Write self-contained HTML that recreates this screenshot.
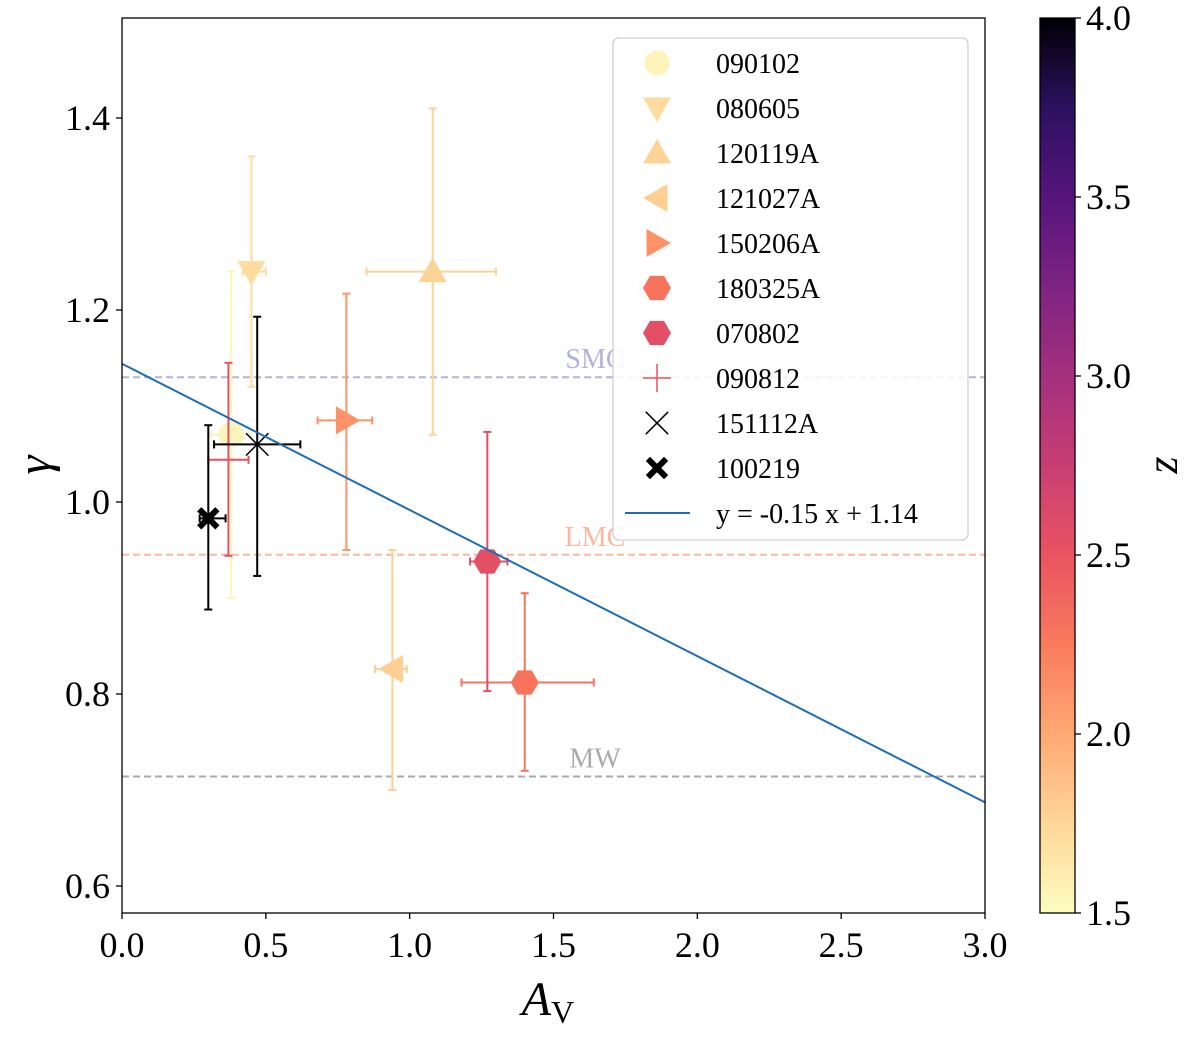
<!DOCTYPE html>
<html><head><meta charset="utf-8"><style>
body{margin:0;background:#fff}
svg text{font-family:"Liberation Serif","DejaVu Serif",serif;fill:#000}
</style></head><body>
<svg id="chart" width="1200" height="1034" xmlns="http://www.w3.org/2000/svg">
<defs>
<linearGradient id="cmap" x1="0" y1="1" x2="0" y2="0">
<stop offset="0" stop-color="#fcfdbf"/><stop offset="0.1" stop-color="#fed799"/><stop offset="0.2" stop-color="#fea873"/><stop offset="0.3" stop-color="#f97b5d"/><stop offset="0.4" stop-color="#e95462"/><stop offset="0.5" stop-color="#c83e73"/><stop offset="0.6" stop-color="#a3307e"/><stop offset="0.7" stop-color="#7e2482"/><stop offset="0.8" stop-color="#56147d"/><stop offset="0.9" stop-color="#2c115f"/><stop offset="1" stop-color="#000004"/>
</linearGradient>
</defs>
<g id="plot"></g>
</svg>
<script>
const names=["090102","080605","120119A","121027A","150206A","180325A","070802","090812","151112A","100219"];
const markers=["circle","tdown","tup","tleft","tright","hex","hex","plus","x","xbold"];
const colors=["#fcf5bb","#fedc9f","#fed396","#fecf92","#fc9265","#f8735c","#e34f64","#e8505f","#000","#000"];
const avs=[0.38,0.45,1.08,0.94,0.78,1.40,1.27,0.37,0.47,0.30];
const avLo=[0.31,0.42,0.85,0.88,0.68,1.18,1.21,0.30,0.32,0.27];
const avHi=[0.45,0.50,1.30,0.99,0.87,1.64,1.34,0.44,0.62,0.36];
const gammas=[1.07,1.24,1.24,0.826,1.085,0.812,0.938,1.044,1.06,0.983];
const gLo=[0.90,1.12,1.07,0.70,0.95,0.72,0.803,0.944,0.923,0.888];
const gHi=[1.24,1.36,1.41,0.95,1.217,0.905,1.073,1.145,1.193,1.08];
const xTicks=[0,0.5,1.0,1.5,2.0,2.5,3.0];
const yTicks=[0.6,0.8,1.0,1.2,1.4];
const cTicks=[1.5,2.0,2.5,3.0,3.5,4.0];
const refLines=[["SMC",1.13,"#b3b3db"],["LMC",0.945,"#f9b8a0"],["MW",0.714,"#aaaaaa"]];
const fitSlope=-0.1523, fitIcpt=1.144;
const L=122,R=985,T=18,B=913;
const X=v=>L+(v-0)/3*(R-L);
const Y=v=>886-(v-0.6)*960;
const C=v=>913-(v-1.5)/2.5*895;
const ns="http://www.w3.org/2000/svg";
const g=document.getElementById('plot');
function mk(t,a,p){const e=document.createElementNS(ns,t);for(const k in a)e.setAttribute(k,a[k]);(p||g).appendChild(e);return e;}
const cp=mk('clipPath',{id:'clip'});mk('rect',{x:L,y:T,width:R-L,height:B-T},cp);
const inner=mk('g',{'clip-path':'url(#clip)'});
refLines.forEach(r=>{
 const l=mk('line',{x1:L,x2:R,y1:Y(r[1]),y2:Y(r[1]),stroke:r[2],'stroke-width':2,'stroke-dasharray':'7,4'},inner);
 
 
 const t=mk('text',{x:595,y:Y(r[1])-9,'font-size':28,'text-anchor':'middle',style:'fill:'+r[2]},inner);t.textContent=r[0];
 
 
});
function marker(type,cx,cy,col,s,par){
 if(type=='circle')return mk('circle',{cx,cy,r:s*0.9,fill:col},par);
 const pts=(arr)=>arr.map(p=>(cx+p[0]*s)+','+(cy+p[1]*s)).join(' ');
 if(type=='tdown')return mk('polygon',{points:pts([[-1,-0.75],[1,-0.75],[0,1]]),fill:col},par);
 if(type=='tup')return mk('polygon',{points:pts([[-1,0.75],[1,0.75],[0,-1]]),fill:col},par);
 if(type=='tleft')return mk('polygon',{points:pts([[0.75,-1],[0.75,1],[-1,0]]),fill:col},par);
 if(type=='tright')return mk('polygon',{points:pts([[-0.75,-1],[-0.75,1],[1,0]]),fill:col},par);
 if(type=='hex'){let a=[];for(let i=0;i<6;i++){const an=Math.PI/3*i;a.push([Math.cos(an),Math.sin(an)]);}return mk('polygon',{points:pts(a),fill:col},par);}
 if(type=='plus'){const gg=mk('g',{},par);mk('line',{x1:cx-s,x2:cx+s,y1:cy,y2:cy,stroke:col,'stroke-width':1.5},gg);mk('line',{x1:cx,x2:cx,y1:cy-s,y2:cy+s,stroke:col,'stroke-width':1.5},gg);return gg;}
 if(type=='x'){const gg=mk('g',{},par);mk('line',{x1:cx-s*.8,x2:cx+s*.8,y1:cy-s*.8,y2:cy+s*.8,stroke:col,'stroke-width':1.5},gg);mk('line',{x1:cx-s*.8,x2:cx+s*.8,y1:cy+s*.8,y2:cy-s*.8,stroke:col,'stroke-width':1.5},gg);return gg;}
 if(type=='xbold'){const gg=mk('g',{},par);mk('line',{x1:cx-s*.65,x2:cx+s*.65,y1:cy-s*.65,y2:cy+s*.65,stroke:col,'stroke-width':6},gg);mk('line',{x1:cx-s*.65,x2:cx+s*.65,y1:cy+s*.65,y2:cy-s*.65,stroke:col,'stroke-width':6},gg);return gg;}
}
names.forEach((n,i)=>{
 const gg=mk('g',{},inner);
 
 
 const c=colors[i],x=X(avs[i]),y=Y(gammas[i]);
 mk('line',{x1:X(avLo[i]),x2:X(avHi[i]),y1:y,y2:y,stroke:c,'stroke-width':2},gg);
 mk('line',{x1:x,x2:x,y1:Y(gLo[i]),y2:Y(gHi[i]),stroke:c,'stroke-width':2},gg);
 [[X(avLo[i]),y,0],[X(avHi[i]),y,0],[x,Y(gLo[i]),1],[x,Y(gHi[i]),1]].forEach(p=>{
  if(p[2])mk('line',{x1:p[0]-4,x2:p[0]+4,y1:p[1],y2:p[1],stroke:c,'stroke-width':2},gg);
  else mk('line',{x1:p[0],x2:p[0],y1:p[1]-4,y2:p[1]+4,stroke:c,'stroke-width':2},gg);
 });
 marker(markers[i],x,y,c,14,gg);
});
const fl=mk('line',{x1:X(0),y1:Y(fitIcpt),x2:X(3),y2:Y(fitIcpt+3*fitSlope),stroke:'#1f6eb4','stroke-width':2},inner);


const ax=mk('rect',{x:L,y:T,width:R-L,height:B-T,fill:'none',stroke:'#000','stroke-width':1.3});


xTicks.forEach(v=>{mk('line',{x1:X(v),x2:X(v),y1:B,y2:B+6,stroke:'#000','stroke-width':1.3});
 const t=mk('text',{x:X(v),y:B+44,'font-size':36,'text-anchor':'middle'});t.textContent=v.toFixed(1);
 
 });
yTicks.forEach(v=>{mk('line',{x1:L-6,x2:L,y1:Y(v),y2:Y(v),stroke:'#000','stroke-width':1.3});
 const t=mk('text',{x:L-12,y:Y(v)+12,'font-size':36,'text-anchor':'end'});t.textContent=v.toFixed(1);
 
 });
let t=mk('text',{x:548,y:1015,'font-size':48,'font-style':'italic','text-anchor':'middle'});t.innerHTML='A<tspan font-size="32" font-style="normal" dy="8">V</tspan>';


t=mk('text',{x:0,y:0,'font-size':48,'font-style':'italic','text-anchor':'middle',transform:'translate(50,465) rotate(-90)'});t.textContent='γ';


const lg=mk('g',{});


mk('rect',{x:613,y:38,width:355,height:502,rx:6,fill:'#fff','fill-opacity':0.85,stroke:'#d0d0d0','stroke-width':1.3},lg);
names.forEach((n,i)=>{
 const yy=63+i*45;
 const e=mk('g',{},lg);
 
 
 marker(markers[i],657,yy,colors[i],14,e);
 const tt=mk('text',{x:716,y:yy+10,'font-size':28},e);tt.textContent=n;
});
const le=mk('g',{},lg);


mk('line',{x1:625,x2:690,y1:513,y2:513,stroke:'#1f6eb4','stroke-width':2},le);
const ft=mk('text',{x:716,y:523,'font-size':28},le);ft.textContent='y = -0.15 x + 1.14';
const cb=mk('rect',{x:1040,y:18,width:35,height:895,fill:'url(#cmap)',stroke:'#000','stroke-width':1.3});


cTicks.forEach(v=>{mk('line',{x1:1075,x2:1081,y1:C(v),y2:C(v),stroke:'#000','stroke-width':1.3});
 const tt=mk('text',{x:1086,y:C(v)+12,'font-size':36});tt.textContent=v.toFixed(1);
 
 });
t=mk('text',{x:0,y:0,'font-size':44,'font-style':'italic','text-anchor':'middle',transform:'translate(1177,465) rotate(-90)'});t.textContent='z';


</script>
</body></html>
